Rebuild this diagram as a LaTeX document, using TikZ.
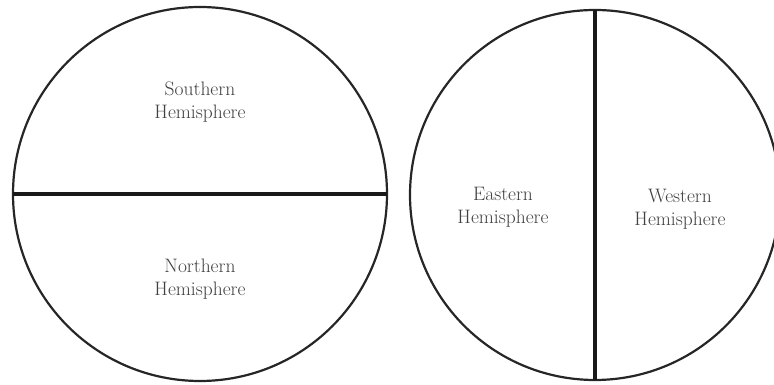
\documentclass[tikz,border=0pt]{standalone}
\usepackage{fontspec}
\begin{document}
\begin{tikzpicture}[x=1pt,y=1pt,
  globe/.style={draw=black!85,line width=2.2pt},
  divider/.style={draw=black!90,line width=3.2pt},
  label/.style={align=center,text=black!75,font=\fontsize{19.5}{23}\selectfont,inner sep=0pt}]
\useasboundingbox (0,0) rectangle (774,385);
\clip (0,0) rectangle (774,385);
% left globe
\coordinate (lc) at (200,191);
\draw[globe] (lc) circle (187);
\coordinate (lw) at (13,191);
\coordinate (le) at (387,191);
\draw[divider] (lw) -- (le);
\node[label] (south) at (200,283) {Southern\\Hemisphere};
\node[label] (north) at (200,106) {Northern\\Hemisphere};
% right globe
\coordinate (rc) at (595,190);
\draw[globe] (rc) circle (185);
\coordinate (rn) at (595,375);
\coordinate (rs) at (595,5);
\draw[divider] (rn) -- (rs);
\node[label] (east) at (503,178) {Eastern\\Hemisphere};
\node[label] (west) at (680,176) {Western\\Hemisphere};
\end{tikzpicture}
\end{document}
